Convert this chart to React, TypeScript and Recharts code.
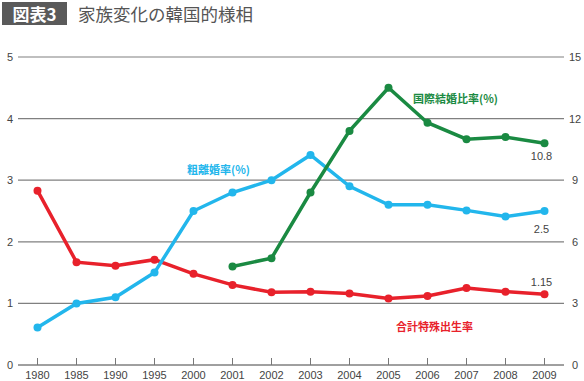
import { LineChart, Line, XAxis, YAxis, CartesianGrid, LabelList } from 'recharts';

// --- data ---
const years = ['1980', '1985', '1990', '1995', '2000', '2001', '2002', '2003', '2004', '2005', '2006', '2007', '2008', '2009'];
const fertility = [2.83, 1.67, 1.61, 1.71, 1.48, 1.30, 1.18, 1.19, 1.16, 1.08, 1.12, 1.25, 1.19, 1.15];
const divorce = [0.61, 1.0, 1.1, 1.5, 2.5, 2.8, 3.0, 3.41, 2.9, 2.6, 2.6, 2.51, 2.41, 2.5];
const intlMarriage = [null, null, null, null, null, 4.8, 5.2, 8.4, 11.4, 13.5, 11.8, 11.0, 11.1, 10.8];
const leftTicks = [0, 1, 2, 3, 4, 5];
const rightTicks = [0, 3, 6, 9, 12, 15];

const data = years.map((year, i) => ({
    year,
    fertility: fertility[i],
    divorce: divorce[i],
    intl: intlMarriage[i],
}));

const RED = '#e8212b';
const BLUE = '#22b6ec';
const GREEN = '#1a8a42';
const TEXT = '#444';
const FONT = '"Liberation Sans", Arial, sans-serif';
const JP = '"Noto Sans CJK JP", sans-serif';

const XTick = ({ x, y, payload }: any) => (
    <g>
        <line x1={x} x2={x} y1={y - 7} y2={y} stroke="#777" strokeWidth={1} />
        <text x={x} y={y + 14} textAnchor="middle" fontSize={11} fill={TEXT} fontFamily={FONT}>
            {payload.value}
        </text>
    </g>
);

const LeftTick = ({ x, y, payload }: any) => (
    <text x={x - 8} y={y + 4} textAnchor="middle" fontSize={11} fill={TEXT} fontFamily={FONT}>
        {payload.value}
    </text>
);

const RightTick = ({ x, y, payload }: any) => (
    <text x={x + 11} y={y + 4} textAnchor="middle" fontSize={11} fill={TEXT} fontFamily={FONT}>
        {payload.value}
    </text>
);

// label only the final point of a series
const lastLabel = (dy: number) => (props: any) => {
    const { x, y, index, value } = props;
    if (index !== years.length - 1) return null;
    return (
        <text x={x - 3} y={y + dy} textAnchor="middle" fontSize={11} fill={TEXT} fontFamily={FONT}>
            {value}
        </text>
    );
};

const seriesLabel = (text: string, color: string, left: number, top: number) => (
    <div style={{ position: 'absolute', left, top, color, fontSize: 11, fontWeight: 600, fontFamily: JP, lineHeight: '14px', whiteSpace: 'nowrap' }}>
        {text}
    </div>
);

export default function App() {
    return (
        <div style={{ position: 'fixed', left: 0, top: 0, width: 584, height: 381, background: '#fff', overflow: 'hidden' }}>
            <style>{'body{margin:0;overflow:hidden}'}</style>
            <div style={{ position: 'absolute', left: 2, top: 2, width: 65, height: 23, background: '#5a5a5a', color: '#fff', fontFamily: JP, fontWeight: 700, fontSize: 17, lineHeight: '23px', textAlign: 'center' }}>
                図表3
            </div>
            <div style={{ position: 'absolute', left: 78, top: 2, color: '#555', fontFamily: JP, fontSize: 17.5, lineHeight: '23px', whiteSpace: 'nowrap' }}>
                家族変化の韓国的様相
            </div>
            <LineChart width={584} height={381} data={data} margin={{ top: 57, right: 0, bottom: 0, left: 0 }} style={{ overflow: 'visible' }}>
                <CartesianGrid vertical={false} stroke="#808080" strokeWidth={1.2} yAxisId="l" />
                <XAxis
                    dataKey="year"
                    height={16}
                    padding={{ left: 19.5, right: 19.5 }}
                    tickSize={0}
                    tickMargin={0}
                    tick={<XTick />}
                    axisLine={{ stroke: '#808080' }}
                    interval={0}
                />
                <YAxis yAxisId="l" orientation="left" width={18} domain={[0, 5]} ticks={leftTicks} tickSize={0} tickMargin={0} axisLine={false} tickLine={false} tick={<LeftTick />} />
                <YAxis yAxisId="r" orientation="right" width={20} domain={[0, 15]} ticks={rightTicks} tickSize={0} tickMargin={0} axisLine={false} tickLine={false} tick={<RightTick />} />
                <Line yAxisId="l" dataKey="fertility" stroke={RED} strokeWidth={3.5} dot={{ r: 4, fill: RED, stroke: RED, strokeWidth: 0 }} isAnimationActive={false}>
                    <LabelList dataKey="fertility" content={lastLabel(-8)} />
                </Line>
                <Line yAxisId="l" dataKey="divorce" stroke={BLUE} strokeWidth={3.5} dot={{ r: 4, fill: BLUE, stroke: BLUE, strokeWidth: 0 }} isAnimationActive={false}>
                    <LabelList dataKey="divorce" content={lastLabel(22)} />
                </Line>
                <Line yAxisId="r" dataKey="intl" stroke={GREEN} strokeWidth={3.5} dot={{ r: 4, fill: GREEN, stroke: GREEN, strokeWidth: 0 }} connectNulls={false} isAnimationActive={false}>
                    <LabelList dataKey="intl" content={lastLabel(17)} />
                </Line>
            </LineChart>
            {seriesLabel('粗離婚率(%)', BLUE, 187, 162)}
            {seriesLabel('国際結婚比率(%)', GREEN, 413, 91)}
            {seriesLabel('合計特殊出生率', RED, 396, 319)}
        </div>
    );
}
